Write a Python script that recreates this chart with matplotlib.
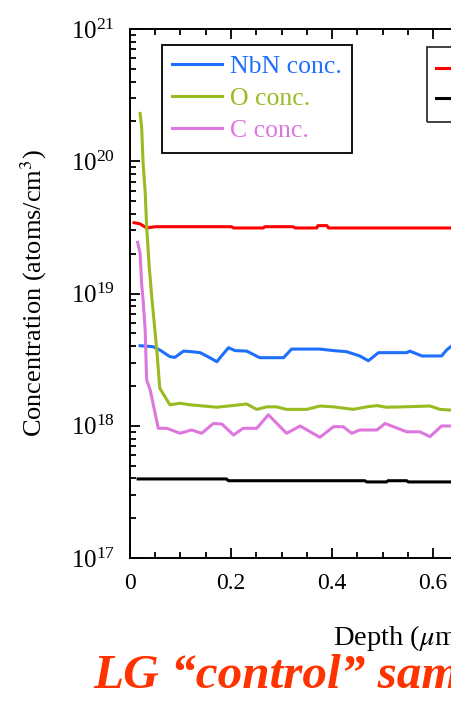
import numpy as np
import matplotlib.pyplot as plt
from matplotlib.patches import Rectangle
from matplotlib.lines import Line2D

plt.rcParams['font.family'] = ['Liberation Serif', 'DejaVu Serif']
plt.rcParams['mathtext.fontset'] = 'stix'

# SIMS depth profiles (depth in um, concentration in atoms/cm3)
nbn_x = [0.020, 0.046, 0.059, 0.079, 0.089, 0.106, 0.122, 0.139, 0.158, 0.172,
         0.182, 0.195, 0.208, 0.231, 0.257, 0.304, 0.320, 0.376, 0.403, 0.429,
         0.455, 0.472, 0.492, 0.548, 0.554, 0.578, 0.617, 0.627, 0.64]
nbn_y = [4.03e18, 3.96e18, 3.74e18, 3.33e18, 3.29e18, 3.67e18, 3.63e18, 3.57e18,
         3.27e18, 3.05e18, 3.4e18, 3.89e18, 3.70e18, 3.67e18, 3.27e18, 3.27e18,
         3.80e18, 3.80e18, 3.70e18, 3.63e18, 3.37e18, 3.10e18, 3.57e18, 3.57e18,
         3.67e18, 3.37e18, 3.37e18, 3.74e18, 4.1e18]

o_x = [0.020, 0.023, 0.026, 0.030, 0.033, 0.038, 0.043, 0.053, 0.059, 0.079,
       0.099, 0.119, 0.172, 0.231, 0.251, 0.271, 0.290, 0.310, 0.350, 0.376,
       0.403, 0.442, 0.469, 0.489, 0.508, 0.541, 0.594, 0.614, 0.64]
o_y = [2.30e20, 1.82e20, 9.6e19, 5.9e19, 3.2e19, 1.6e19, 9.5e18, 3.74e18,
       1.92e18, 1.44e18, 1.48e18, 1.44e18, 1.38e18, 1.46e18, 1.33e18, 1.39e18,
       1.39e18, 1.33e18, 1.33e18, 1.41e18, 1.39e18, 1.33e18, 1.39e18, 1.42e18,
       1.38e18, 1.39e18, 1.41e18, 1.33e18, 1.31e18]

c_x = [0.015, 0.020, 0.023, 0.026, 0.030, 0.033, 0.040, 0.056, 0.073, 0.099,
       0.122, 0.142, 0.165, 0.182, 0.205, 0.224, 0.251, 0.274, 0.310, 0.337,
       0.376, 0.403, 0.422, 0.439, 0.455, 0.489, 0.505, 0.548, 0.574, 0.594,
       0.617, 0.64]
c_y = [2.44e19, 2.01e19, 1.19e19, 8.9e18, 5.3e18, 2.22e18, 1.86e18, 9.57e17,
       9.57e17, 8.77e17, 9.29e17, 8.77e17, 1.04e18, 1.03e18, 8.51e17, 9.57e17,
       9.57e17, 1.21e18, 8.77e17, 9.96e17, 8.17e17, 9.84e17, 9.84e17, 8.77e17,
       9.29e17, 9.29e17, 1.04e18, 9.0e17, 9.0e17, 8.27e17, 9.96e17, 9.96e17]

red_x = [0.008, 0.020, 0.033, 0.050, 0.201, 0.205, 0.264, 0.267, 0.323, 0.327,
         0.370, 0.372, 0.390, 0.393, 0.498, 0.64]
red_y = [3.43e19, 3.36e19, 3.13e19, 3.20e19, 3.20e19, 3.13e19, 3.13e19, 3.20e19,
         3.20e19, 3.13e19, 3.13e19, 3.26e19, 3.26e19, 3.13e19, 3.13e19, 3.13e19]

blk_x = [0.016, 0.191, 0.195, 0.465, 0.469, 0.508, 0.511, 0.548, 0.551, 0.64]
blk_y = [3.96e17, 3.96e17, 3.84e17, 3.84e17, 3.76e17, 3.76e17, 3.84e17, 3.84e17,
         3.76e17, 3.76e17]

fig = plt.figure(figsize=(4.52, 7.01), dpi=100)
# axes runs past the right edge: the picture is a crop of a wider chart
ax = fig.add_axes([130/452, 143/701, 505/452, 529/701])

lw = 2.2
ax.plot(red_x, red_y, color='#ff0000', lw=lw)
ax.plot(blk_x, blk_y, color='black', lw=lw)
l1, = ax.plot(nbn_x, nbn_y, color='#1f6fff', lw=lw, label='NbN conc.')
l2, = ax.plot(o_x, o_y, color='#99bb22', lw=lw, label='O conc.')
l3, = ax.plot(c_x, c_y, color='#dd77dd', lw=lw, label='C conc.')

ax.set_yscale('log')
ax.set_ylim(1e17, 1e21)
ax.set_xlim(0, 1)
ax.set_xticks([0, 0.2, 0.4, 0.6, 0.8, 1.0])
ax.set_xticklabels(['0', '0.2', '0.4', '0.6', '0.8', '1'])
ax.set_xticks(np.arange(0, 1.0001, 0.05), minor=True)

ax.tick_params(which='both', direction='in', top=True, right=True, width=1.3)
ax.tick_params(which='major', length=7)
ax.tick_params(which='minor', length=4)
ax.tick_params(axis='y', labelsize=18, pad=11)
ax.tick_params(axis='x', labelsize=17, pad=11)
for s in ax.spines.values():
    s.set_linewidth(1.4)

ax.set_ylabel('Concentration (atoms/cm$^3$)', fontsize=19)
ax.yaxis.set_label_coords(-0.16, 0.5)
ax.set_xlabel('Depth ($\\mu$m)', fontsize=20.5, ha='left')
ax.xaxis.set_label_coords((333-130)/505, -0.122)

leg = ax.legend(handles=[l1, l2, l3], loc='upper left',
                bbox_to_anchor=(32/505, 513/529), borderaxespad=0,
                fontsize=18.5, labelcolor='linecolor', fancybox=False,
                edgecolor='black', framealpha=1, handlelength=1.95,
                handletextpad=0.3, labelspacing=0.35, borderpad=0.4)
leg.get_frame().set_linewidth(1.3)

# second legend box, mostly outside the crop
ax.add_patch(Rectangle(((426.7-130)/505, (558-121.7)/529), 0.4, 75/529,
                       transform=ax.transAxes, fill=False, edgecolor='#333333',
                       lw=1.3, clip_on=False))
for yy, cc in [(68.3, '#ff0000'), (98.3, 'black')]:
    ax.add_line(Line2D([(436-130)/505, (487-130)/505],
                       [(558-yy)/529, (558-yy)/529], color=cc, lw=lw,
                       transform=ax.transAxes, clip_on=False))

fig.text(93/452, 1-688/701, 'LG \u201ccontrol\u201d sample', color='#ff3300',
         fontsize=35.5, fontweight='bold', fontstyle='italic',
         ha='left', va='baseline')

fig.savefig('out.png', dpi=100)
